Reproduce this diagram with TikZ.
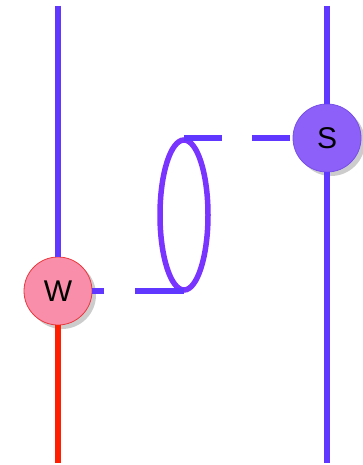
\documentclass[tikz,border=0pt]{standalone}
\usepackage{fontspec}
\setmainfont{Liberation Sans}
\usetikzlibrary{shapes.geometric,shadows}
\definecolor{wire}{RGB}{95,55,255}
\definecolor{loopc}{RGB}{122,52,255}
\definecolor{wfill}{RGB}{248,142,170}
\definecolor{wedge}{RGB}{235,55,60}
\definecolor{sfill}{RGB}{142,96,250}
\definecolor{sedge}{RGB}{118,78,232}
\definecolor{tail}{RGB}{255,30,0}

\begin{document}
\begin{tikzpicture}[x=1pt,y=-1pt,
  wireline/.style={draw=wire, line width=6pt},
  site/.style={circle, minimum size=68pt, inner sep=0pt, line width=0.8pt,
    font=\fontsize{30}{30}\selectfont,
    drop shadow={shadow xshift=4pt, shadow yshift=-4pt, opacity=0.4}},
  link/.style={draw=wire, line width=6pt}]
\useasboundingbox (0,0) rectangle (363,465);
\coordinate (ltop) at (58,6);
\coordinate (lbot) at (58,463);
\coordinate (rtop) at (327,6);
\coordinate (rbot) at (327,463);
\node[site, fill=wfill, draw=wedge] (wnode) at (58,291) {W};
\node[site, fill=sfill, draw=sedge] (snode) at (327,138) {S};
\node[ellipse, draw=loopc, line width=5.5pt, minimum width=48pt, minimum height=150pt,
  inner sep=0pt] (loop) at (184,215) {};
% wires
\draw[wireline] (ltop) -- (wnode.north);
\draw[draw=tail, line width=6pt] (wnode.south) -- (lbot);
\draw[wireline] (rtop) -- (snode.north);
\draw[wireline] (snode.south) -- (rbot);
% dashed links to the loop
\draw[link, dash pattern=on 38pt off 30pt] (loop.north |- snode.west) -- (snode.west);
\draw[link, dash pattern=on 49pt off 31pt] (loop.south |- wnode.east) -- (wnode.east);
\end{tikzpicture}
\end{document}
